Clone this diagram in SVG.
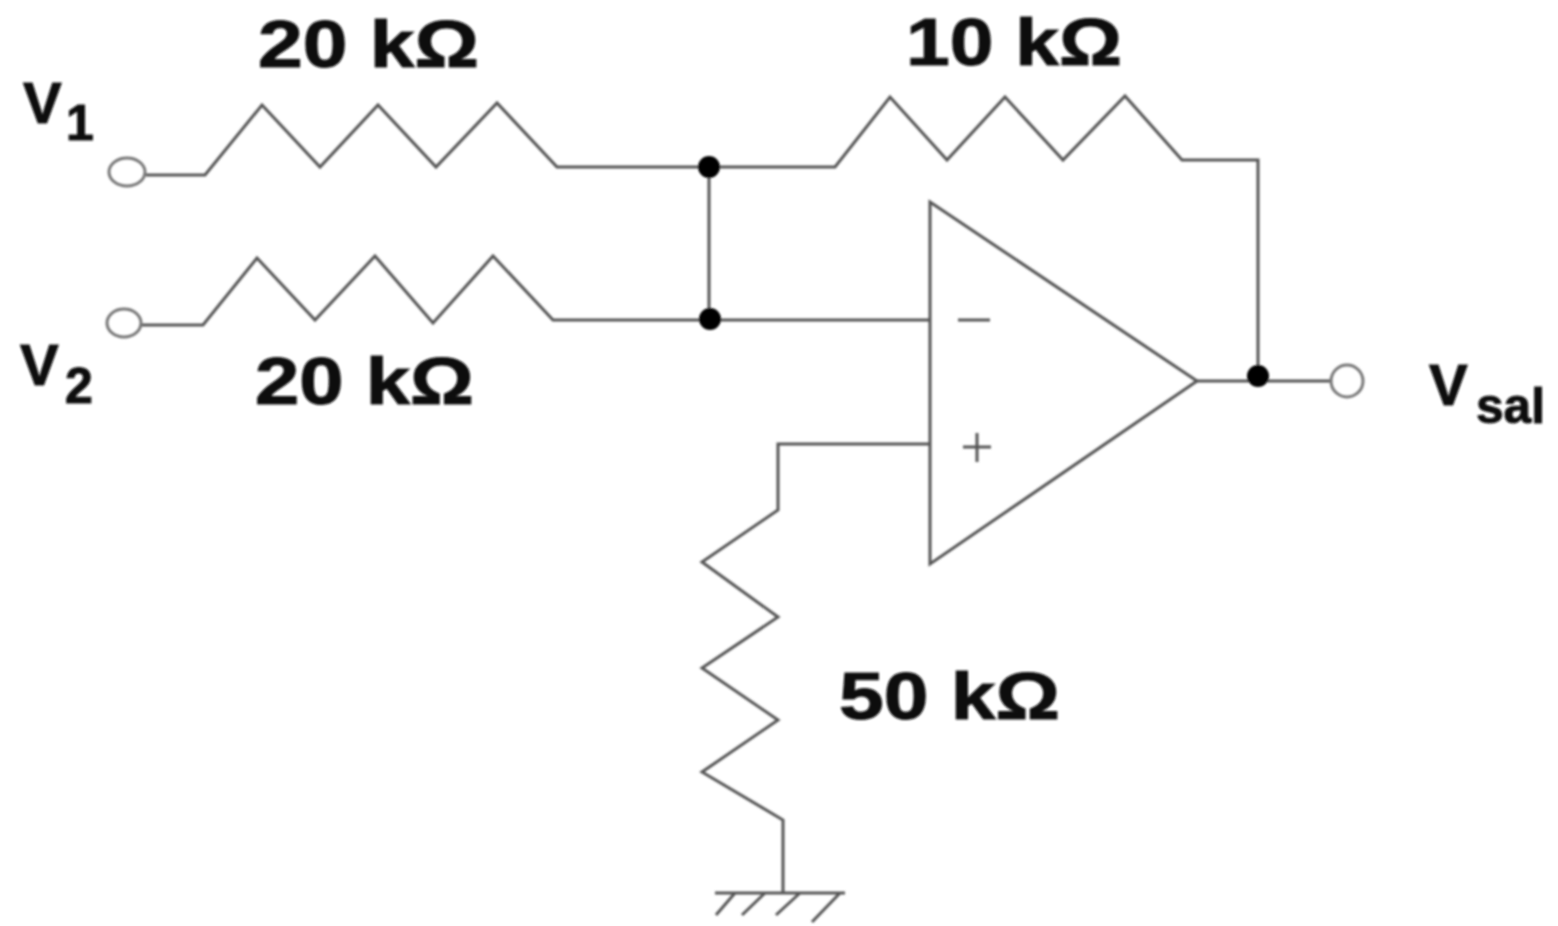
<svg xmlns="http://www.w3.org/2000/svg" width="1558" height="926" viewBox="0 0 1558 926">
<defs><filter id="soft" x="-5%" y="-5%" width="110%" height="110%"><feGaussianBlur stdDeviation="0.8"/></filter></defs>
<style>
.w{fill:none;stroke:#555;stroke-width:3;stroke-linejoin:miter}
.t{fill:none;stroke:#777;stroke-width:3}
.d{fill:#000;stroke:none}
text{font-family:"Liberation Sans",Arial,sans-serif;font-weight:700;fill:#111;stroke:#111;stroke-width:1}
.r{font-size:66px}
.v{font-size:58px}
.s{font-size:50px}
</style>
<rect width="1558" height="926" fill="#fff"/>
<g filter="url(#soft)">
<g id="connectors">
<path class="w" d="M146 175H205L262 105L320 167L378 105L436 167L497 103L557 167H835L890 97L947 160L1005 97L1063 160L1125 96L1182 160H1258V376"/>
<path class="w" d="M141 325H203L257 258L315 320L375 256L433 323L493 256L553 320H930"/>
<path class="w" d="M709 167V319"/>
<path class="w" d="M1197 381H1330"/>
<path class="w" d="M930 444H778V510L702 562L778 617L702 668L778 720L702 772L783 820V893"/>
</g>
<g id="opamp">
<path class="w" d="M930 202L1197 381L930 564Z"/>
<path class="w" d="M958 320H990M963 447H991M977 433V462"/>
</g>
<g id="node-top"><circle class="d" cx="709" cy="167" r="11"/></g>
<g id="node-bottom"><circle class="d" cx="710" cy="319" r="11"/></g>
<g id="node-out"><circle class="d" cx="1258" cy="376" r="11"/></g>
<g id="terminal-v1"><ellipse class="t" cx="127" cy="172" rx="18" ry="14"/><text class="v" x="23" y="123">V</text><text class="s" x="66" y="140">1</text></g>
<g id="terminal-v2"><ellipse class="t" cx="124" cy="323" rx="17" ry="14"/><text class="v" x="20" y="385">V</text><text class="s" x="65" y="403">2</text></g>
<g id="terminal-vsal"><circle class="t" cx="1347" cy="381" r="16"/><text class="v" x="1429" y="405">V</text><text class="s" x="1476" y="423" textLength="69" lengthAdjust="spacingAndGlyphs">sal</text></g>
<g id="r1"><text class="r" x="258" y="67" textLength="221" lengthAdjust="spacingAndGlyphs">20 kΩ</text></g>
<g id="r2"><text class="r" x="255" y="404" textLength="219" lengthAdjust="spacingAndGlyphs">20 kΩ</text></g>
<g id="r3"><text class="r" x="906" y="65" textLength="216" lengthAdjust="spacingAndGlyphs">10 kΩ</text></g>
<g id="r4"><text class="r" x="839" y="719" textLength="221" lengthAdjust="spacingAndGlyphs">50 kΩ</text></g>
<g id="ground"><path class="w" d="M715 893H845M735 893L716 915M765 893L742 915M800 893L776 915M840 893L812 922"/></g>
</g>
</svg>
